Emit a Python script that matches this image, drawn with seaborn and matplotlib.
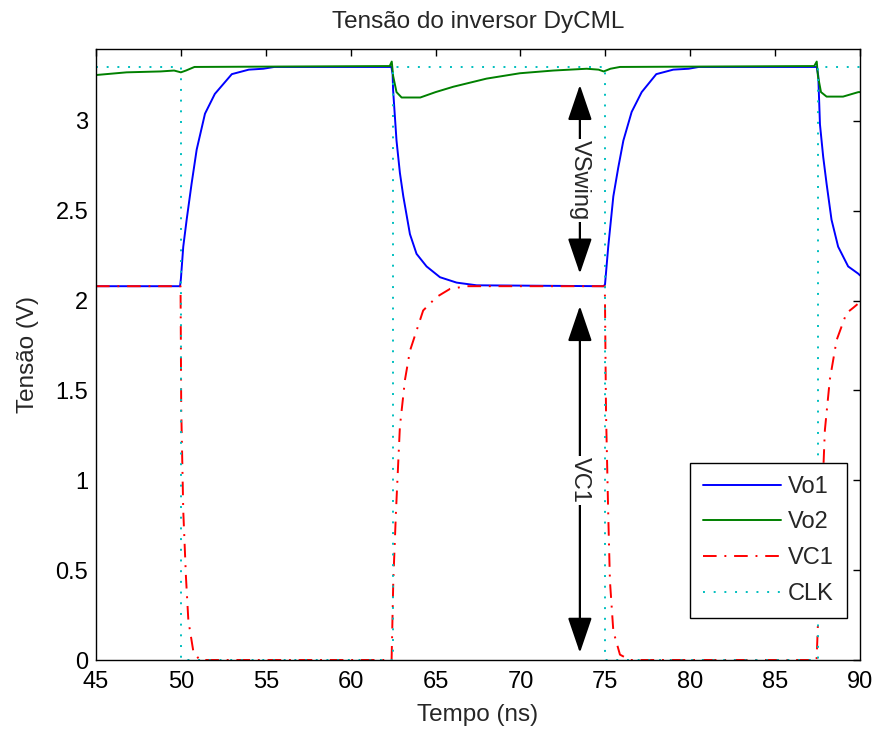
import numpy as np
import pandas as pd
import matplotlib
matplotlib.use('Agg')
import matplotlib.pyplot as plt
import seaborn as sns

# values (time in ns, voltage in V)
t_vo1 = [45, 49.95, 50.0, 50.14, 50.34, 50.63, 50.93, 51.42, 52.0, 53.0, 54.0, 54.85, 55.5,
         62.4, 62.47, 62.5, 62.7, 62.9, 63.1, 63.49, 63.88, 64.47, 65.26, 66.24, 67.42, 74.9,
         74.98, 75.17, 75.47, 75.76, 76.06, 76.55, 77.14, 78.0, 79.0, 79.9, 80.5,
         87.45, 87.54, 87.64, 87.83, 88.03, 88.32, 88.71, 89.3, 89.89, 90]
vo1 = [2.08, 2.08, 2.12, 2.30, 2.45, 2.65, 2.84, 3.04, 3.15, 3.26, 3.285, 3.29, 3.30,
       3.30, 3.26, 3.17, 2.89, 2.71, 2.58, 2.37, 2.26, 2.19, 2.13, 2.10, 2.085, 2.08,
       2.09, 2.30, 2.58, 2.74, 2.89, 3.05, 3.16, 3.26, 3.285, 3.29, 3.30,
       3.30, 3.25, 2.98, 2.80, 2.65, 2.45, 2.30, 2.19, 2.15, 2.14]

t_vo2 = [45, 46.8, 48.8, 49.6, 50.0, 50.3, 50.8, 62.3, 62.42, 62.5, 62.7, 63.0, 64.1, 65.0,
         66.05, 68.0, 69.97, 71.93, 73.9, 74.6, 74.9, 75.3, 75.86, 87.3, 87.45, 87.52, 87.7,
         88.03, 89.0, 89.9, 90]
vo2 = [3.255, 3.27, 3.275, 3.28, 3.27, 3.28, 3.30, 3.305, 3.33, 3.25, 3.16, 3.13, 3.13, 3.16,
       3.19, 3.235, 3.265, 3.28, 3.29, 3.285, 3.275, 3.29, 3.30, 3.305, 3.33, 3.25, 3.16,
       3.135, 3.135, 3.16, 3.16]

t_vc1 = [45, 49.98, 50.02, 50.14, 50.3, 50.44, 50.73, 51.1, 62.41, 62.51, 62.67, 62.9, 63.2,
         63.49, 64.27, 65.06, 65.85, 66.83, 67.5, 74.97, 75.04, 75.17, 75.27, 75.47, 75.86,
         76.45, 87.44, 87.54, 87.73, 87.93, 88.22, 88.62, 89.2, 89.6, 89.85]
vc1 = [2.08, 2.08, 1.40, 0.83, 0.46, 0.22, 0.05, 0.0, 0.0, 0.44, 0.83, 1.30, 1.56,
       1.72, 1.945, 2.02, 2.065, 2.08, 2.08, 2.08, 1.37, 0.81, 0.44, 0.16, 0.03,
       0.0, 0.0, 0.25, 0.81, 1.28, 1.56, 1.78, 1.93, 1.96, 1.98]

t_clk = [45, 50, 50, 62.5, 62.5, 75, 75, 87.5, 87.5, 90]
clk = [3.3, 3.3, 0, 0, 3.3, 3.3, 0, 0, 3.3, 3.3]

x_ticks = [45, 50, 55, 60, 65, 70, 75, 80, 85, 90]
y_ticks = [0, 0.5, 1, 1.5, 2, 2.5, 3]
y_tick_labels = ['0', '0.5', '1', '1.5', '2', '2.5', '3']

sns.set_style('white')
plt.rcParams['font.family'] = ['Liberation Sans', 'DejaVu Sans']

fig = plt.figure(figsize=(8.75, 7.31), dpi=100)
ax = fig.add_axes([0.1097, 0.0971, 0.8732, 0.8359])

sns.lineplot(x=t_vo1, y=vo1, ax=ax, color='#0000ff', lw=1.4, label='Vo1',
             estimator=None, sort=False)
sns.lineplot(x=t_vo2, y=vo2, ax=ax, color='#008000', lw=1.4, label='Vo2',
             estimator=None, sort=False)
sns.lineplot(x=t_vc1, y=vc1, ax=ax, color='#ff0000', lw=1.4, label='VC1',
             estimator=None, sort=False)
sns.lineplot(x=t_clk, y=clk, ax=ax, color='#00bfbf', lw=1.4, label='CLK',
             estimator=None, sort=False)

lines = ax.get_lines()
lines[2].set_dashes((7, 4, 1, 4))
lines[2].set_clip_on(False)
lines[3].set_dashes((1, 4.5))

ax.set_xlim(45, 90)
ax.set_ylim(0, 3.4)
ax.set_xticks(x_ticks)
ax.set_yticks(y_ticks)
ax.set_yticklabels(y_tick_labels)
ax.tick_params(direction='in', length=5, width=1, top=True, right=True,
               labelsize=17, colors='black', pad=8)
ax.tick_params(axis='y', pad=5.5)
for s in ax.spines.values():
    s.set_color('black')
    s.set_linewidth(1)

ax.set_title('Tensão do inversor DyCML', fontsize=17.5, pad=15)
ax.set_xlabel('Tempo (ns)', fontsize=17.5, labelpad=8)
ax.set_ylabel('Tensão (V)', fontsize=17.5, labelpad=12)

arrow = dict(arrowstyle='<|-|>,head_length=2.2,head_width=0.75', color='black',
             lw=1.6, mutation_scale=10, shrinkA=0, shrinkB=0)
ax.annotate('', xy=(73.5, 3.2), xytext=(73.5, 2.15), arrowprops=arrow)
ax.annotate('', xy=(73.5, 1.97), xytext=(73.5, 0.04), arrowprops=arrow)
ax.text(73.5, 2.67, 'VSwing', rotation=270, fontsize=17, ha='center', va='center',
        bbox=dict(facecolor='white', edgecolor='none', pad=1))
ax.text(73.5, 1.0, 'VC1', rotation=270, fontsize=17, ha='center', va='center',
        bbox=dict(facecolor='white', edgecolor='none', pad=1))

leg = ax.legend(loc='lower right', bbox_to_anchor=(0.983, 0.069), borderaxespad=0,
                fontsize=17, handlelength=3.3, handletextpad=0.3, fancybox=False,
                framealpha=1, edgecolor='black', borderpad=0.55, labelspacing=0.58)
leg.get_frame().set_linewidth(1)

fig.savefig('out.png', dpi=100, facecolor='white')
